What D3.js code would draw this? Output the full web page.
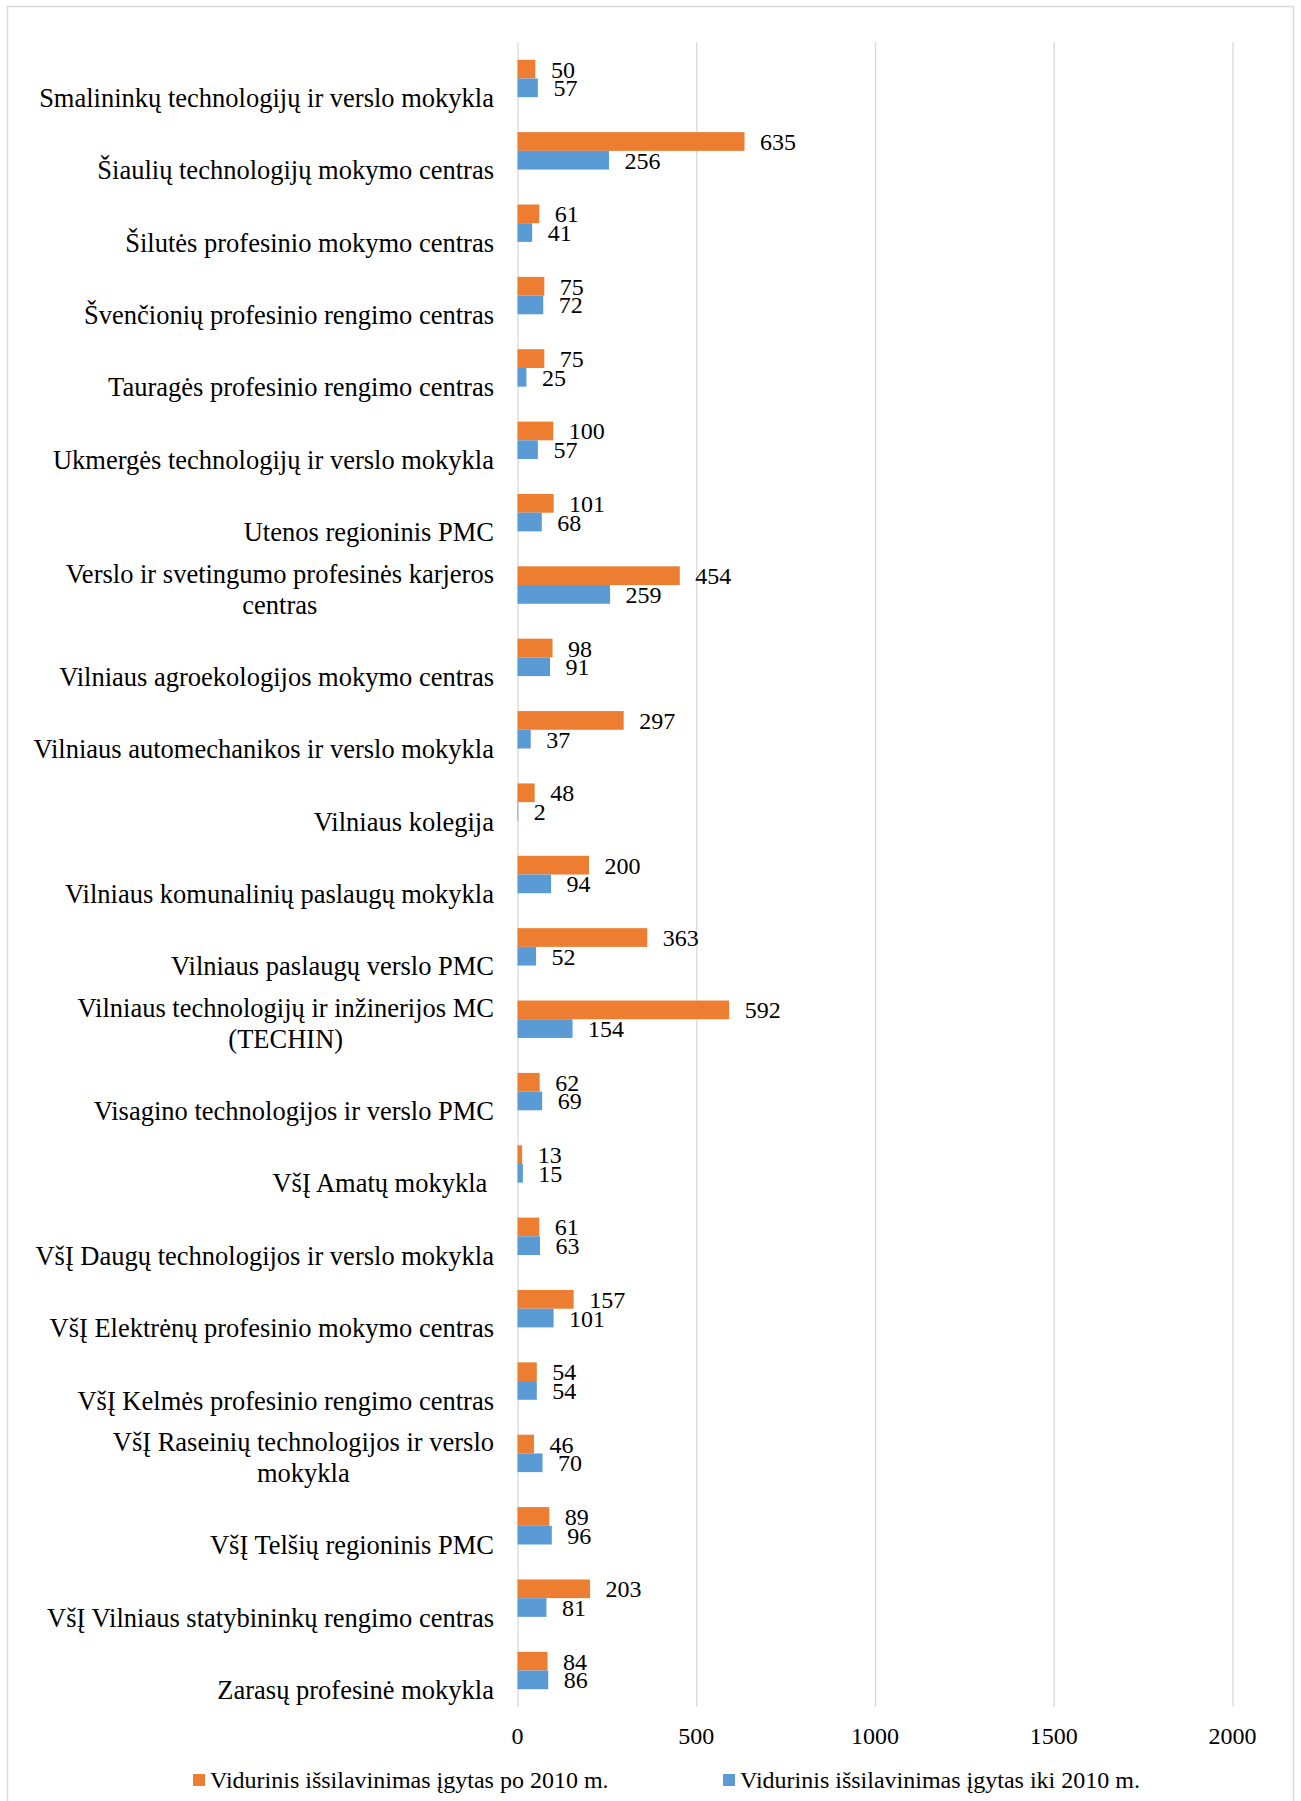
<!DOCTYPE html>
<meta charset="utf-8">
<head>
<script src="https://d3js.org/d3.v7.min.js"></script>
<style>
  body { margin: 0; background: #fff; }
  text { font-family: "Liberation Serif", "Times New Roman", serif; fill: #000; }
</style>
</head>
<body>
<svg id="chart" width="1301" height="1801"></svg>
<script>

// category names (\n = line break as in the original)
var categories = [
  "Smalininkų technologijų ir verslo mokykla",
  "Šiaulių technologijų mokymo centras",
  "Šilutės profesinio mokymo centras",
  "Švenčionių profesinio rengimo centras",
  "Tauragės profesinio rengimo centras",
  "Ukmergės technologijų ir verslo mokykla",
  "Utenos regioninis PMC",
  "Verslo ir svetingumo profesinės karjeros\ncentras",
  "Vilniaus agroekologijos mokymo centras",
  "Vilniaus automechanikos ir verslo mokykla",
  "Vilniaus kolegija",
  "Vilniaus komunalinių paslaugų mokykla",
  "Vilniaus paslaugų verslo PMC",
  "Vilniaus technologijų ir inžinerijos MC\n(TECHIN)",
  "Visagino technologijos ir verslo PMC",
  "VšĮ Amatų mokykla ",
  "VšĮ Daugų technologijos ir verslo mokykla",
  "VšĮ Elektrėnų profesinio mokymo centras",
  "VšĮ Kelmės profesinio rengimo centras",
  "VšĮ Raseinių technologijos ir verslo\nmokykla",
  "VšĮ Telšių regioninis PMC",
  "VšĮ Vilniaus statybininkų rengimo centras",
  "Zarasų profesinė mokykla"
];

var afterValues  = [50, 635, 61, 75, 75, 100, 101, 454, 98, 297, 48, 200, 363, 592, 62, 13, 61, 157, 54, 46, 89, 203, 84];
var beforeValues = [57, 256, 41, 72, 25, 57, 68, 259, 91, 37, 2, 94, 52, 154, 69, 15, 63, 101, 54, 70, 96, 81, 86];

var seriesNames = ["Vidurinis išsilavinimas įgytas po 2010 m.", "Vidurinis išsilavinimas įgytas iki 2010 m."];
var seriesColors = ["#ED7D31", "#5B9BD5"];
var xTicks = [0, 500, 1000, 1500, 2000];

var svg = d3.select("#chart");

// chart border
svg.append("rect")
    .attr("x", 7.5).attr("y", 6.5)
    .attr("width", 1286).attr("height", 1800)
    .attr("fill", "#fff")
    .attr("stroke", "#D9D9D9")
    .attr("stroke-width", 1.5);

var plotTop = 42.3, plotBottom = 1706.7;

var x = d3.scaleLinear().domain([0, 2000]).range([517.5, 1232.5]);

var y = d3.scaleBand()
    .domain(d3.range(categories.length))
    .range([plotTop, plotBottom])
    .paddingInner(0.483)
    .paddingOuter(0.2415);

var ySub = d3.scaleBand().domain([0, 1]).range([0, y.bandwidth()]);

// gridlines
var grid = svg.append("g")
    .attr("transform", "translate(0," + plotBottom + ")")
    .call(d3.axisBottom(x).tickValues(xTicks).tickSize(-(plotBottom - plotTop)).tickFormat(""));
grid.select(".domain").remove();
grid.selectAll("line").attr("stroke", "#D9D9D9").attr("stroke-width", 1.3);

// tick labels
svg.append("g").selectAll("text")
    .data(xTicks)
    .enter().append("text")
    .attr("x", d => x(d))
    .attr("y", 1744)
    .attr("text-anchor", "middle")
    .attr("font-size", 24)
    .text(d => d);

var rows = categories.map((c, i) => ({ i: i, vals: [afterValues[i], beforeValues[i]] }));

var groups = svg.append("g").selectAll("g")
    .data(rows)
    .enter().append("g")
    .attr("transform", d => "translate(0," + y(d.i) + ")");

groups.selectAll("rect")
    .data(d => d.vals.map((v, s) => ({ v: v, s: s })))
    .enter().append("rect")
    .attr("x", x(0))
    .attr("y", d => ySub(d.s))
    .attr("width", d => x(d.v) - x(0))
    .attr("height", ySub.bandwidth())
    .attr("fill", d => seriesColors[d.s]);

groups.selectAll("text.val")
    .data(d => d.vals.map((v, s) => ({ v: v, s: s })))
    .enter().append("text")
    .attr("class", "val")
    .attr("x", d => x(d.v) + 15.5)
    .attr("y", d => ySub(d.s) + ySub.bandwidth() / 2 + 8.5)
    .attr("font-size", 24)
    .text(d => d.v);

// category labels, last line sits below band centre, lines centred on each other
var labelRight = 494, lineGap = 30.5;
categories.forEach(function(c, i) {
  var lines = c.split("\n");
  var cy = y(i) + y.bandwidth() / 2;
  var g = svg.append("g");
  var texts = lines.map(function(l, k) {
    return g.append("text")
      .attr("font-size", 26.5)
      .attr("y", cy + 28.5 - (lines.length - 1 - k) * lineGap)
      .style("white-space", "pre")
      .text(l);
  });
  if (lines.length == 1) {
    texts[0].attr("x", labelRight).attr("text-anchor", "end");
  } else {
    var w = d3.max(texts, t => t.node().getComputedTextLength());
    texts.forEach(t => t.attr("x", labelRight - w / 2).attr("text-anchor", "middle"));
  }
});

// legend
var legendX = [193, 723];
var legend = svg.append("g").selectAll("g")
    .data(seriesNames)
    .enter().append("g")
    .attr("transform", (d, i) => "translate(" + legendX[i] + ",1774)");
legend.append("rect")
    .attr("width", 12).attr("height", 12)
    .attr("fill", (d, i) => seriesColors[i]);
legend.append("text")
    .attr("x", 17).attr("y", 14)
    .attr("font-size", 24)
    .text(d => d);

</script>
</body>
</html>
